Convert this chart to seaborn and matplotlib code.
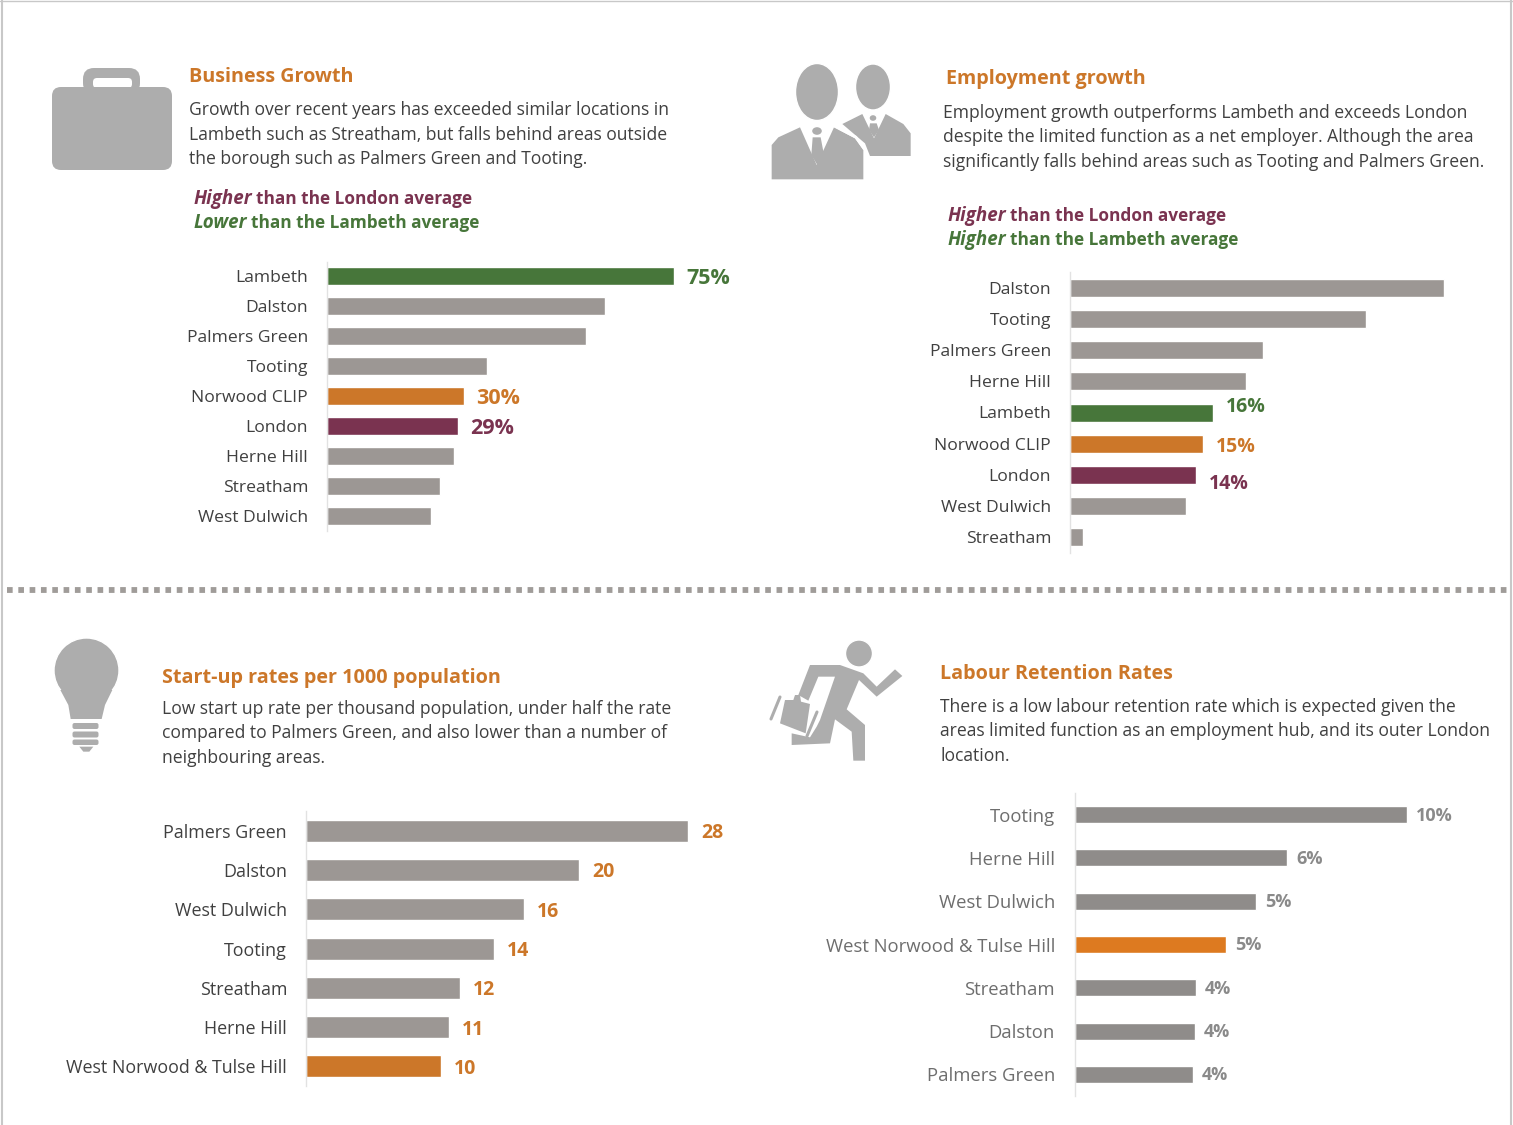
import matplotlib
matplotlib.use("Agg")
import matplotlib.pyplot as plt
import pandas as pd
import seaborn as sns
from matplotlib.patches import Circle, Ellipse, FancyBboxPatch, Polygon

# ===== data =====
business_names = ["Lambeth", "Dalston", "Palmers Green", "Tooting", "Norwood CLIP", "London",
                  "Herne Hill", "Streatham", "West Dulwich"]
business_values = [75, 60, 56, 34.5, 29.7, 28.4, 27.5, 24.5, 22.5]
business_labels = ["75%", "", "", "", "30%", "29%", "", "", ""]

employment_names = ["Dalston", "Tooting", "Palmers Green", "Herne Hill", "Lambeth", "Norwood CLIP",
                    "London", "West Dulwich", "Streatham"]
employment_values = [41.8, 33.1, 21.6, 19.7, 16, 14.9, 14.1, 13, 1.5]
employment_labels = ["", "", "", "", "16%", "15%", "14%", "", ""]

startup_names = ["Palmers Green", "Dalston", "West Dulwich", "Tooting", "Streatham", "Herne Hill",
                 "West Norwood & Tulse Hill"]
startup_values = [28, 20, 16, 13.8, 11.3, 10.5, 9.9]
startup_labels = ["28", "20", "16", "14", "12", "11", "10"]

labour_names = ["Tooting", "Herne Hill", "West Dulwich", "West Norwood & Tulse Hill", "Streatham",
                "Dalston", "Palmers Green"]
labour_values = [10, 6.4, 5.45, 4.55, 3.65, 3.6, 3.55]
labour_labels = ["10%", "6%", "5%", "5%", "4%", "4%", "4%"]

# ===== style =====
GREY = "#9c9794"
GREEN = "#47763a"
ORANGE = "#cc7729"
MAROON = "#7a3350"
TEXT = "#404040"
ICON = "#adadad"
W, H = 1513, 1125

sns.set_theme(style="white")
plt.rcParams["font.family"] = ["Open Sans", "DejaVu Sans"]

fig = plt.figure(figsize=(W / 100, H / 100), dpi=100, facecolor="white")
bg = fig.add_axes([0, 0, 1, 1])
bg.set_xlim(0, W)
bg.set_ylim(H, 0)
bg.axis("off")


def panel(names, values, labels, colors, x0, top, bottom, scale, bar_h,
          font=12.6, label_color=None, label_size=15.5, dx=12, dy=None, name_color=TEXT, pad=13.6):
    n = len(names)
    width = max(values) * scale * 1.3
    ax = fig.add_axes([x0 / W, 1 - bottom / H, width / W, (bottom - top) / H])
    ax.patch.set_alpha(0)
    df = pd.DataFrame({"name": names, "value": values})
    sns.barplot(data=df, x="value", y="name", hue="name", palette=colors, legend=False,
                width=bar_h / ((bottom - top) / n), saturation=1, ax=ax)
    ax.set_xlim(0, width / scale)
    ax.set_ylim(n - 0.5, -0.5)
    ax.set_xlabel("")
    ax.set_ylabel("")
    ax.xaxis.set_visible(False)
    ax.tick_params(axis="y", length=0, pad=pad)
    ax.set_yticks(range(n), names, fontsize=font, color=name_color)
    sns.despine(ax=ax, top=True, right=True, bottom=True)
    ax.spines["left"].set_color("#e2e2e2")
    ax.spines["left"].set_linewidth(1)
    for i, (v, lab) in enumerate(zip(values, labels)):
        if not lab:
            continue
        off = dy[i] if dy else 2.5
        col = label_color or colors[names[i]]
        ax.annotate(lab, (v, i), xytext=(dx * 0.72, -off * 0.72), textcoords="offset points",
                    va="center", ha="left", fontsize=label_size, fontweight="bold", color=col)
    return ax


def z(pts, ox, oy):
    return [(ox + a / 3, oy + b / 3) for a, b in pts]


def poly(pts, ox, oy, **kw):
    bg.add_patch(Polygon(z(pts, ox, oy), closed=True, facecolor=kw.pop("fc", ICON), edgecolor="none", **kw))


def rbox(x, y, w, h, r, fc=ICON):
    bg.add_patch(FancyBboxPatch((x + r, y + r), w - 2 * r, h - 2 * r, boxstyle=f"round,pad={r}",
                                facecolor=fc, edgecolor="none"))


def title(x, y, s):
    bg.text(x, y, s, fontsize=14.2, fontweight="bold", color=ORANGE, va="center")


def body(x, y, lines, size=12.65, step=24.5):
    for i, line in enumerate(lines):
        bg.text(x, y + i * step, line, fontsize=size, color=TEXT, va="center", ha="left")


def compare(x, y, word, rest, color, rest_dx):
    bg.text(x, y, word, fontsize=13.5, color=color, fontweight="bold", style="italic", va="center")
    bg.text(x + rest_dx, y, rest, fontsize=12.4, color=color, fontweight="bold", va="center")


# ===== page frame and divider =====
bg.plot([1.5, 1.5], [0, H], color="#c8c8c8", lw=1.5)
bg.plot([1511, 1511], [0, H], color="#c8c8c8", lw=1.5)
bg.plot([0, W], [0.5, 0.5], color="#c8c8c8", lw=1)
bg.plot([7, 1507], [589.5, 589.5], color="#a09c99", lw=4.2, ls=(0, (0.97, 0.97)), dash_capstyle="butt")

# ===== icons =====
rbox(83, 68, 57, 26, 11)
rbox(93, 78, 39, 10, 4, fc="white")
rbox(52, 87, 120, 83, 9)

poly([(262, 222), (322, 192), (357, 265), (392, 192), (445, 222), (467, 250), (467, 318),
      (345, 318), (330, 280)], 755, 50)
poly([(345, 220), (365, 220), (372, 240), (357, 262), (342, 240)], 755, 50)
bg.add_patch(Ellipse((873, 87), 35, 46, facecolor=ICON))
bg.add_patch(Ellipse((873, 118), 8, 7, facecolor=ICON))
poly([(50, 388), (50, 285), (70, 262), (135, 232), (185, 345), (237, 232), (300, 265), (325, 300), (325, 388)],
     755, 50)
poly([(232, 222), (305, 258), (335, 300), (325, 300), (300, 265), (237, 232)], 755, 50, fc="white")
poly([(173, 262), (197, 262), (207, 315), (187, 345), (169, 315)], 755, 50)
bg.add_patch(Ellipse((817, 92), 43, 57, facecolor=ICON))
bg.add_patch(Ellipse((817, 131), 11, 9, facecolor=ICON))

bg.add_patch(Circle((86.5, 670.5), 32.5, facecolor=ICON))
poly([(91, 195), (115, 240), (122, 282), (215, 282), (225, 240), (247, 195)], 30, 625)
rbox(72.5, 723, 26, 6, 2)
rbox(72.5, 731.5, 26, 6, 2)
rbox(72.5, 739.5, 26, 5.5, 2)
poly([(148, 365), (190, 365), (178, 380), (160, 380)], 30, 625)

bg.add_patch(Circle((859, 653.5), 13.5, facecolor=ICON))
poly([(165, 105), (255, 105), (325, 130), (365, 170), (420, 118), (442, 138), (365, 200), (312, 150),
      (275, 238), (330, 285), (330, 392), (295, 392), (290, 305), (240, 268), (225, 340), (110, 345),
      (110, 310), (165, 322), (185, 290), (195, 270), (240, 140), (190, 140), (160, 212), (130, 195)], 755, 630)
poly([(90, 210), (115, 210), (120, 195), (135, 195), (138, 215), (165, 222), (152, 310), (75, 280)], 755, 630)
bg.plot([755 + 25, 755 + 16], [630 + 67, 630 + 89], color=ICON, lw=2.2)
bg.plot([755 + 62, 755 + 52], [630 + 82, 630 + 106], color=ICON, lw=2.2)

# ===== business growth =====
title(189, 77, "Business Growth")
body(189, 110, ["Growth over recent years has exceeded similar locations in",
                "Lambeth such as Streatham, but falls behind areas outside",
                "the borough such as Palmers Green and Tooting."])
compare(194, 199, "Higher", "than the London average", MAROON, 62)
compare(194, 223, "Lower", "than the Lambeth average", GREEN, 57)
colors = {k: GREY for k in business_names}
colors.update({"Lambeth": GREEN, "Norwood CLIP": ORANGE, "London": MAROON})
panel(business_names, business_values, business_labels, colors, 327, 261.5, 530.5, 347 / 75, 18)

# ===== employment growth =====
title(946, 79, "Employment growth")
body(943, 113, ["Employment growth outperforms Lambeth and exceeds London",
                "despite the limited function as a net employer. Although the area",
                "significantly falls behind areas such as Tooting and Palmers Green."])
compare(948, 216, "Higher", "than the London average", MAROON, 62)
compare(948, 240, "Higher", "than the Lambeth average", GREEN, 62)
colors = {k: GREY for k in employment_names}
colors.update({"Lambeth": GREEN, "Norwood CLIP": ORANGE, "London": MAROON})
panel(employment_names, employment_values, employment_labels, colors, 1070, 272, 553, 143 / 16, 18,
      label_size=14, dx=13, dy=[0, 0, 0, 0, -6, 3, 9, 0, 0])

# ===== start-up rates =====
title(162, 678, "Start-up rates per 1000 population")
body(162, 709, ["Low start up rate per thousand population, under half the rate",
                "compared to Palmers Green, and also lower than a number of",
                "neighbouring areas."])
colors = {k: GREY for k in startup_names}
colors["West Norwood & Tulse Hill"] = ORANGE
panel(startup_names, startup_values, startup_labels, colors, 306, 811, 1086, 382 / 28, 22,
      font=12.9, label_color=ORANGE, label_size=14, dx=13)

# ===== labour retention =====
title(940, 674, "Labour Retention Rates")
body(940, 707, ["There is a low labour retention rate which is expected given the",
                "areas limited function as an employment hub, and its outer London",
                "location."])
colors = {k: "#8f8c8a" for k in labour_names}
colors["West Norwood & Tulse Hill"] = "#dd7a20"
panel(labour_names, labour_values, labour_labels, colors, 1075, 793, 1096, 33.2, 17,
      font=13.3, label_color="#8a8a8a", label_size=13, dx=9, dy=[1] * 7, name_color="#6e6e6e", pad=14.4)

fig.savefig("out.png", dpi=100, facecolor="white")
